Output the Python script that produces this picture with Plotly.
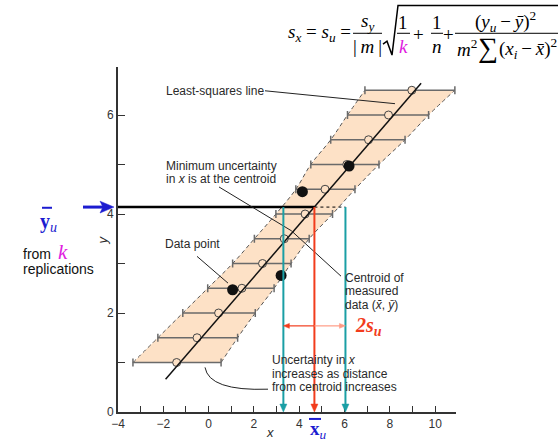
import plotly.graph_objects as go

# ---------------- data ----------------
levels_y = [1.0, 1.5, 2.0, 2.5, 3.0, 3.5, 4.0, 4.5, 5.0, 5.5, 6.0, 6.5]
circle_x = [-1.41, -0.51, 0.44, 1.47, 2.38, 3.34, 4.26, 5.14, 6.10, 7.06, 7.94, 8.97]
bar_left = [-3.34, -2.24, -1.14, -0.04, 1.06, 2.02, 2.97, 3.85, 4.51, 5.39, 6.13, 6.90]
bar_right = [0.55, 1.28, 2.06, 2.89, 3.64, 4.44, 5.47, 6.46, 7.52, 8.67, 9.71, 10.87]
data_x = [1.06, 3.20, 4.14, 6.20]
data_y = [2.47, 2.76, 4.45, 4.97]
ls_x = [-1.9, 9.38]
ls_y = [0.66, 6.64]
y_u = 4.14
x_u = 4.67
s_u = 1.37
arrow_y = 1.74
x_ticks = [-4, -2, 0, 2, 4, 6, 8, 10]
x_ticktext = ['−4', '−2', '0', '2', '4', '6', '8', '10']
y_ticks = [0, 2, 4, 6]
y_ticktext = ['0', '2', '4', '6']

# ---------------- layout geometry ----------------
W, H = 559, 443
PL, PR, PT, PB = 118, 456, 67, 415
X0, X1 = -4.0, 10.92
Y0, Y1 = 0.0, 6.97


def dx(p):
    return X0 + (p - PL) * (X1 - X0) / (PR - PL)


def dy(p):
    return Y0 + (PB - p) * (Y1 - Y0) / (PB - PT)


def xp(v):  # data x -> pixel
    return PL + (v - X0) * (PR - PL) / (X1 - X0)


def yp(v):  # data y -> pixel
    return PB - (v - Y0) * (PB - PT) / (Y1 - Y0)


def ppx(p):
    return (p - PL) / (PR - PL)


def ppy(p):
    return (PB - p) / (PB - PT)


PEACH = '#fde1c6'
TEAL = '#1a9fa5'
RED = '#f23c1c'
LRED = '#ff9b85'
BLUE = '#1c1cd0'
MAG = '#e020e0'
SANS = 'Liberation Sans, Arial, sans-serif'
SERIF = 'Liberation Serif, Times New Roman, serif'
TXT = '#2a2a2a'

plus = [r - c for r, c in zip(bar_right, circle_x)]
minus = [c - l for c, l in zip(circle_x, bar_left)]
cx = sum(data_x) / len(data_x)
cy = sum(data_y) / len(data_y)

fig = go.Figure()
fig.add_trace(go.Scatter(x=bar_left, y=levels_y, mode='lines',
                         line=dict(color='#555', width=1, dash='4px,3px', shape='spline'),
                         hoverinfo='skip', showlegend=False))
fig.add_trace(go.Scatter(x=bar_right, y=levels_y, mode='lines', fill='tonextx', fillcolor=PEACH,
                         line=dict(color='#555', width=1, dash='4px,3px', shape='spline'),
                         hoverinfo='skip', showlegend=False))
fig.add_trace(go.Scatter(x=circle_x, y=levels_y, mode='markers',
                         marker=dict(symbol='circle', size=8, color=PEACH, line=dict(color='#444', width=1)),
                         error_x=dict(type='data', symmetric=False, array=plus, arrayminus=minus,
                                      color='#6a6a6a', thickness=1.5, width=4),
                         hoverinfo='skip', showlegend=False))
fig.add_trace(go.Scatter(x=ls_x, y=ls_y, mode='lines', line=dict(color='#111', width=1.5),
                         hoverinfo='skip', showlegend=False))
fig.add_trace(go.Scatter(x=data_x, y=data_y, mode='markers',
                         marker=dict(size=11, color='#111'), hoverinfo='skip', showlegend=False))

shapes = []
# horizontal y_u line and dotted continuation
shapes.append(dict(type='line', xref='x', yref='y', x0=X0, x1=x_u, y0=y_u, y1=y_u,
                   line=dict(color='black', width=2.5)))
shapes.append(dict(type='line', xref='x', yref='y', x0=x_u, x1=x_u + s_u, y0=y_u, y1=y_u,
                   line=dict(color='black', width=1, dash='dot')))


def seg(p0, p1):
    return dict(type='line', xref='x', yref='y', x0=dx(p0[0]), y0=dy(p0[1]), x1=dx(p1[0]), y1=dy(p1[1]),
                line=dict(color='#222', width=1))


shapes.append(seg((265, 91), (395, 104)))
shapes.append(dict(type='line', xref='x', yref='y', x0=dx(219), y0=dy(188), x1=cx, y1=cy,
                   line=dict(color='#222', width=1)))
shapes.append(dict(type='line', xref='x', yref='y', x0=dx(341), y0=dy(278), x1=cx, y1=cy,
                   line=dict(color='#222', width=1)))
shapes.append(seg((197, 258), (228, 285)))
shapes.append(dict(type='path', xref='x', yref='y',
                   path='M %f,%f Q %f,%f %f,%f' % (dx(205), dy(370), dx(209), dy(394), dx(268), dy(392)),
                   line=dict(color='#222', width=1)))


def pline(x0, y0, x1, y1, color='black', width=1.0):
    return dict(type='line', xref='paper', yref='paper', x0=ppx(x0), y0=ppy(y0), x1=ppx(x1), y1=ppy(y1),
                line=dict(color=color, width=width))


def ppoly(pts, color):
    path = 'M ' + ' L '.join('%f,%f' % (ppx(a), ppy(b)) for a, b in pts) + ' Z'
    return dict(type='path', xref='paper', yref='paper', path=path, fillcolor=color,
                line=dict(color=color, width=0.5))


# vertical arrows (teal, red) from y_u down to the x axis
for xv, col in [(x_u - s_u, TEAL), (x_u + s_u, TEAL), (x_u, RED)]:
    X = xp(xv)
    shapes.append(pline(X, yp(y_u), X, PB - 6, col, 2))
    shapes.append(ppoly([(X - 3.5, PB - 8), (X + 3.5, PB - 8), (X, PB)], col))
# horizontal 2s_u double arrow
ya = yp(arrow_y)
Xm = xp(x_u)
Xl = xp(x_u - s_u)
Xr = xp(x_u + s_u)
shapes.append(pline(Xl + 4, ya, Xm, ya, RED, 1.2))
shapes.append(ppoly([(Xl + 6, ya - 2.5), (Xl + 6, ya + 2.5), (Xl, ya)], RED))
shapes.append(pline(Xm, ya, Xr - 4, ya, LRED, 1.2))
shapes.append(ppoly([(Xr - 6, ya - 2.5), (Xr - 6, ya + 2.5), (Xr, ya)], LRED))
# blue arrow toward y_u
Yb = yp(y_u)
shapes.append(pline(83, Yb, 104, Yb, BLUE, 3))
shapes.append(ppoly([(114, Yb), (100, Yb - 6), (103, Yb), (100, Yb + 6)], BLUE))

# formula bars and radical
shapes.append(pline(353, 33, 382, 33))
shapes.append(pline(397, 33, 410, 33))
shapes.append(pline(431, 33, 443, 33))
shapes.append(pline(455, 33, 558, 33))
rad = [(383, 44), (387, 41), (392, 55), (398, 5), (558, 5)]
path = 'M ' + ' L '.join('%f,%f' % (ppx(a), ppy(b)) for a, b in rad)
shapes.append(dict(type='path', xref='paper', yref='paper', path=path, line=dict(color='black', width=1.5)))
# overbars on blue labels
shapes.append(pline(42, 209, 52, 209, BLUE, 2))
shapes.append(pline(309, 422, 321, 422, BLUE, 2))

ann = []


def ptext(x, y, text, size=12, color=TXT, family=SANS, xanchor='left', angle=0):
    ann.append(dict(xref='paper', yref='paper', x=ppx(x), y=ppy(y), text=text, showarrow=False,
                    xanchor=xanchor, yanchor='middle', textangle=angle,
                    font=dict(size=size, color=color, family=family)))


ptext(164, 91, 'Least-squares line')
ptext(164, 167, 'Minimum uncertainty')
ptext(164, 180, 'in <i>x</i> is at the centroid')
ptext(163, 246, 'Data point')
ptext(343, 280, 'Centroid of')
ptext(343, 293, 'measured')
ptext(343, 307, 'data (<i>x̄</i>, <i>ȳ</i>)')
ptext(270, 363, 'Uncertainty in <i>x</i>')
ptext(270, 377, 'increases as distance')
ptext(270, 390, 'from centroid increases')
ptext(270, 436, '<i>x</i>', 13, xanchor='center')
ptext(102, 242, '<i>y</i>', 13, xanchor='center', angle=-90)
# left labels
ptext(48, 224, '<b>y</b><sub><i>u</i></sub>', 20, BLUE, SERIF, 'center')
ptext(37, 256, 'from', 14, '#111', SANS, 'center')
ptext(63, 254, '<i>k</i>', 21, MAG, SERIF, 'center')
ptext(58, 271, 'replications', 14, '#111', SANS, 'center')
# bottom / red labels
ptext(318, 433, '<b>x</b><sub><i>u</i></sub>', 19, BLUE, SERIF, 'center')
ptext(353, 329, '<b><i>2s</i></b><sub><b><i>u</i></b></sub>', 20, RED, SERIF, 'left')
# formula
FS = 19
T = '\u2009'
ptext(286, 33, '<i>s</i><sub><i>x</i></sub> = <i>s</i><sub><i>u</i></sub> =', FS, 'black', SERIF, 'left')
ptext(367, 22, '<i>s</i><sub><i>y</i></sub>', FS, 'black', SERIF, 'center')
ptext(367, 46, '|' + T + '<i>m</i>' + T + '|', FS, 'black', SERIF, 'center')
ptext(403, 22, '1', FS, 'black', SERIF, 'center')
ptext(403, 46, '<i>k</i>', FS, MAG, SERIF, 'center')
ptext(418, 34, '+', FS, 'black', SERIF, 'center')
ptext(437, 22, '1', FS, 'black', SERIF, 'center')
ptext(437, 46, '<i>n</i>', FS, 'black', SERIF, 'center')
ptext(448, 34, '+', FS, 'black', SERIF, 'center')
ptext(505, 21, '(<i>y</i><sub><i>u</i></sub>' + T + '−' + T + '<i>y\u0304</i>)<sup>2</sup>', FS, 'black', SERIF, 'center')
ptext(455, 48, '<i>m</i><sup>2</sup>', FS, 'black', SERIF, 'left')
ptext(488, 47, '∑', 28, 'black', SERIF, 'center')
ptext(528, 48, '(<i>x</i><sub><i>i</i></sub>' + T + '−' + T + '<i>x\u0304</i>)<sup>2</sup>', FS, 'black', SERIF, 'center')

fig.update_layout(
    width=W, height=H, margin=dict(l=PL, r=W - PR, t=PT, b=H - PB),
    paper_bgcolor='white', plot_bgcolor='white', showlegend=False,
    shapes=shapes, annotations=ann,
    xaxis=dict(range=[X0, X1], tickvals=x_ticks, ticktext=x_ticktext, ticks='inside', ticklen=6,
               tickwidth=1.2, tickcolor='#333', showline=True, linecolor='#333', linewidth=2,
               minor=dict(tick0=0, dtick=1, ticks='inside', ticklen=6, tickwidth=1.2, tickcolor='#333'),
               showgrid=False, zeroline=False, tickfont=dict(family=SANS, size=12, color='#333')),
    yaxis=dict(range=[Y0, Y1], tickvals=y_ticks, ticktext=y_ticktext, ticks='inside', ticklen=7,
               tickwidth=1.2, tickcolor='#333', showline=True, linecolor='#333', linewidth=2,
               minor=dict(tick0=0, dtick=1, ticks='inside', ticklen=7, tickwidth=1.2, tickcolor='#333'),
               showgrid=False, zeroline=False, tickfont=dict(family=SANS, size=12, color='#333')),
)
fig.write_html('out.html', config={'displayModeBar': False},
               post_script="document.body.style.margin='0';")
